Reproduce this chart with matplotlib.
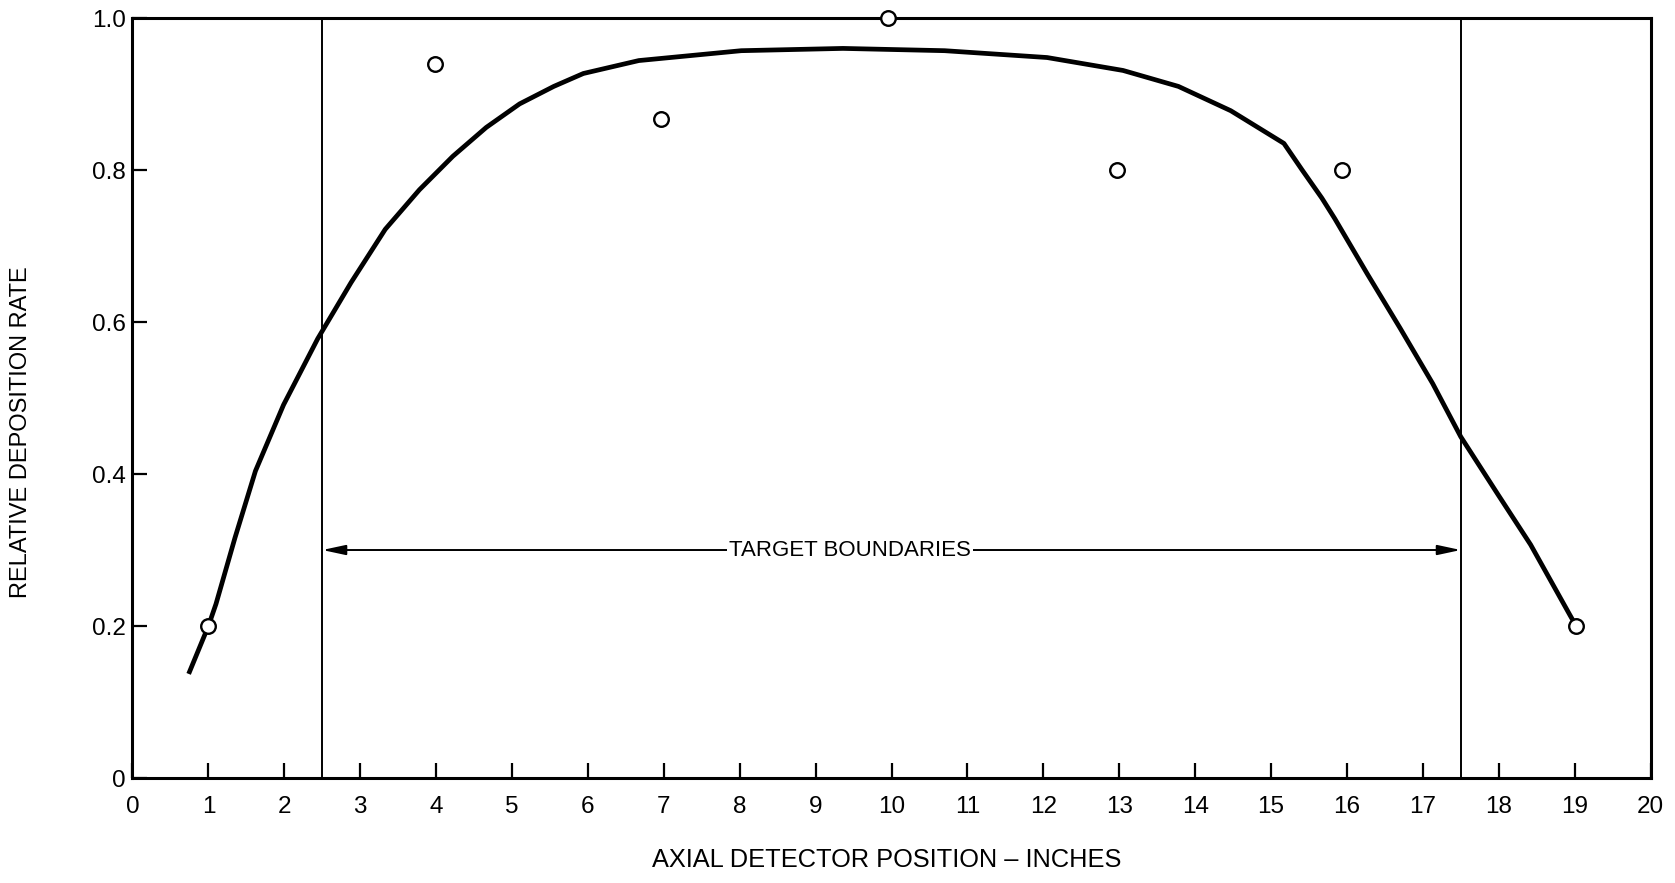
import matplotlib
matplotlib.use("Agg")
import matplotlib.pyplot as plt

plt.rcParams['font.family'] = ['Liberation Sans', 'DejaVu Sans']

# measured deposition rates at the detector stations
pos_measured = [1.0, 3.99, 6.96, 9.95, 12.97, 15.94, 19.02]
rate_measured = [0.20, 0.94, 0.867, 1.00, 0.80, 0.80, 0.20]

# faired curve through the data
pos_curve = [0.74, 1.0, 1.10, 1.35, 1.62, 1.99, 2.44, 2.88, 3.33, 3.78, 4.22,
             4.66, 5.10, 5.55, 5.94, 6.67, 8.02, 9.36, 10.70, 12.05, 13.05,
             13.78, 14.47, 15.17, 15.41, 15.67, 15.84, 16.27, 16.70, 17.13,
             17.50, 17.99, 18.42, 18.94, 19.02]
rate_curve = [0.137, 0.200, 0.229, 0.316, 0.404, 0.491, 0.578, 0.652, 0.722,
              0.774, 0.818, 0.856, 0.887, 0.910, 0.927, 0.944, 0.957, 0.960,
              0.957, 0.948, 0.931, 0.910, 0.878, 0.835, 0.800, 0.763, 0.736,
              0.663, 0.592, 0.519, 0.449, 0.373, 0.307, 0.214, 0.20]

target_left = 2.5
target_right = 17.5
arrow_y = 0.30

x_ticks = list(range(0, 21))
y_ticks = [0, 0.2, 0.4, 0.6, 0.8, 1.0]
y_ticklabels = ['0', '0.2', '0.4', '0.6', '0.8', '1.0']

fig = plt.figure(figsize=(16.75, 8.83), dpi=100)
ax = fig.add_axes([0.0791, 0.1189, 0.9063, 0.8607])

ax.set_xlim(0, 20)
ax.set_ylim(0, 1.0)

for s in ax.spines.values():
    s.set_linewidth(2.2)

ax.set_xticks(x_ticks)
ax.set_xticklabels([str(v) for v in x_ticks])
ax.set_yticks(y_ticks)
ax.set_yticklabels(y_ticklabels)
ax.tick_params(axis='both', direction='in', length=11, width=1.6,
               labelsize=17.5, colors='black')
ax.tick_params(axis='x', pad=13)
ax.tick_params(axis='y', pad=5)

# target boundary lines
ax.axvline(target_left, color='black', lw=1.4)
ax.axvline(target_right, color='black', lw=1.4)

ax.plot(pos_curve, rate_curve, color='black', lw=3.4, solid_capstyle='butt',
        solid_joinstyle='round', zorder=3)
ax.plot(pos_measured, rate_measured, 'o', ms=10.5, mfc='white', mec='black',
        mew=1.7, zorder=4, clip_on=False)

ax.annotate('', xy=(target_left, arrow_y), xytext=(target_right, arrow_y),
            arrowprops=dict(arrowstyle='<|-|>,head_length=1.4,head_width=0.3',
                            color='black', lw=1.4, mutation_scale=10,
                            shrinkA=0, shrinkB=0))
ax.text(9.45, arrow_y, 'TARGET BOUNDARIES', ha='center', va='center',
        fontsize=16, zorder=5,
        bbox=dict(facecolor='white', edgecolor='none', pad=1.5))

fig.text(887 / 1675, 1 - 860 / 883, 'AXIAL DETECTOR POSITION – INCHES',
         ha='center', va='center', fontsize=18.3)
fig.text(21 / 1675, 1 - 432 / 883, 'RELATIVE DEPOSITION RATE',
         ha='center', va='center', rotation=90, fontsize=17)

fig.savefig('out.png', dpi=100, facecolor='white')
